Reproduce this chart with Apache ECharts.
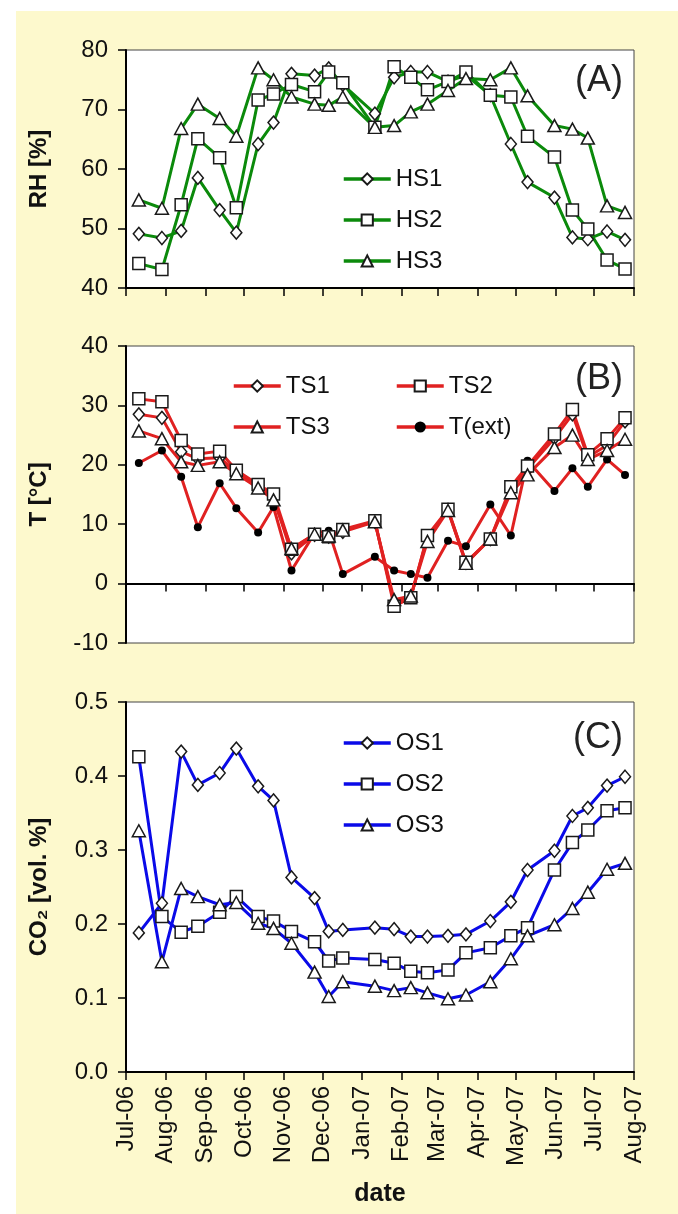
<!DOCTYPE html>
<html>
<head>
<meta charset="utf-8">
<script src="https://cdn.jsdelivr.net/npm/echarts@6/dist/echarts.min.js"></script>
<style>
  html, body { margin: 0; padding: 0; background: #fff; }
  #chart { width: 678px; height: 1214px; }
</style>
</head>
<body>
<div id="chart"></div>
<script>
// sampling dates (shared by all three panels)
const dates = ['2006-07-11', '2006-07-29', '2006-08-13', '2006-08-26', '2006-09-12', '2006-09-25',
  '2006-10-12', '2006-10-24', '2006-11-07', '2006-11-25', '2006-12-06', '2006-12-17',
  '2007-01-11', '2007-01-26', '2007-02-08', '2007-02-21', '2007-03-09', '2007-03-23',
  '2007-04-11', '2007-04-27', '2007-05-10', '2007-05-31', '2007-06-14', '2007-06-26',
  '2007-07-11', '2007-07-25']

// (A) relative humidity [%]
const hs1 = [49.1, 48.4, 49.6, 58.5, 53.1, 49.3, 64.2, 67.8, 76.0, 75.7, 76.9, 74.2, 69.3,
  75.4, 76.3, 76.3, 74.7, 75.8, 72.4, 64.2, 57.8, 55.2, 48.5, 48.2, 49.5, 48.1]
const hs2 = [44.1, 43.1, 54.0, 65.1, 61.9, 53.5, 71.6, 72.6, 74.2, 73.0, 76.3, 74.5, 67.0,
  77.2, 75.4, 73.3, 74.7, 76.3, 72.4, 72.1, 65.5, 62.0, 53.1, 49.9, 44.7, 43.2]
const hs3 = [54.8, 53.4, 66.8, 70.9, 68.5, 65.5, 77.0, 75.0, 72.1, 70.9, 70.7, 72.1, 67.0,
  67.3, 69.6, 70.9, 73.2, 75.2, 75.0, 77.0, 72.3, 67.3, 66.7, 65.2, 53.8, 52.7]

// (B) temperature [°C]
const ts1 = [28.5, 27.9, 22.2, 21.0, 21.2, 18.8, 16.5, 14.6, 5.1, 8.2, 7.9, 8.7, 10.4,
  -3.2, -2.2, 7.8, 12.4, 3.5, 7.5, 15.8, 19.3, 24.5, 28.5, 21.3, 23.3, 27.3]
const ts2 = [31.1, 30.6, 24.1, 21.8, 22.3, 19.1, 16.7, 15.1, 5.8, 8.3, 7.9, 9.1, 10.6,
  -3.8, -2.4, 8.1, 12.5, 3.6, 7.5, 16.3, 19.8, 25.2, 29.3, 21.7, 24.4, 27.9]
const ts3 = [25.7, 24.4, 20.5, 19.9, 20.5, 18.5, 16.1, 14.1, 5.9, 8.3, 8.0, 9.0, 10.4,
  -2.7, -2.1, 7.1, 12.3, 3.4, 7.5, 15.3, 18.3, 22.9, 25.0, 20.9, 22.4, 24.3]
const tExt = [20.3, 22.4, 18.0, 9.5, 16.9, 12.7, 8.6, 12.9, 2.2, 8.5, 8.9, 1.6, 4.5,
  2.2, 1.6, 1.0, 7.2, 6.3, 13.3, 8.1, 20.7, 15.6, 19.4, 16.3, 20.9, 18.3]

// (C) CO2 [vol. %]
const os1 = [0.188, 0.228, 0.433, 0.388, 0.404, 0.437, 0.386, 0.367, 0.263, 0.235, 0.190, 0.192, 0.195,
  0.193, 0.183, 0.183, 0.184, 0.186, 0.204, 0.230, 0.273, 0.299, 0.346, 0.357, 0.387, 0.399]
const os2 = [0.426, 0.210, 0.189, 0.197, 0.216, 0.237, 0.210, 0.204, 0.190, 0.176, 0.150, 0.154, 0.152,
  0.147, 0.136, 0.134, 0.138, 0.161, 0.168, 0.184, 0.195, 0.273, 0.310, 0.327, 0.353, 0.357]
const os3 = [0.326, 0.149, 0.248, 0.237, 0.226, 0.229, 0.201, 0.194, 0.174, 0.135, 0.102, 0.122, 0.116,
  0.110, 0.114, 0.107, 0.099, 0.104, 0.122, 0.153, 0.184, 0.199, 0.221, 0.243, 0.274, 0.282]

const monthNames = ['Jan', 'Feb', 'Mar', 'Apr', 'May', 'Jun', 'Jul', 'Aug', 'Sep', 'Oct', 'Nov', 'Dec']

const FONT = 'Liberation Sans, Arial, sans-serif'
const GREEN = '#0b8a0b'
const RED = '#e02121'
const BLUE = '#0a0ae8'

const grids = [
  { left: 126, right: 44, top: 50, height: 238 },
  { left: 126, right: 44, top: 346, height: 297 },
  { left: 126, right: 44, top: 702, height: 370 }
]

function xAxis (idx, withLabels) {
  return {
    type: 'time',
    gridIndex: idx,
    min: '2006-07-01',
    max: '2007-08-01',
    splitNumber: 13,
    minInterval: 28 * 86400000,
    maxInterval: 31 * 86400000,
    axisLine: { lineStyle: { color: '#000', width: 2 } },
    axisTick: { show: true, length: 8, lineStyle: { color: '#000', width: 1.5 } },
    minorTick: { show: false },
    splitLine: { show: false },
    axisLabel: {
      show: withLabels,
      rotate: 90,
      margin: 14,
      fontSize: 24,
      fontFamily: FONT,
      color: '#111',
      showMinLabel: true,
      showMaxLabel: true,
      formatter: function (v) {
        const d = new Date(v)
        return monthNames[d.getMonth()] + '-' + String(d.getFullYear()).slice(2)
      }
    },
    name: withLabels ? 'date' : '',
    nameLocation: 'middle',
    nameGap: 110,
    nameTextStyle: { fontSize: 25, fontWeight: 'bold', fontFamily: FONT, color: '#111' }
  }
}

function yAxis (idx, name, min, max, step, digits) {
  return {
    type: 'value',
    gridIndex: idx,
    min: min,
    max: max,
    interval: step,
    name: name,
    nameLocation: 'middle',
    nameGap: 75,
    nameTextStyle: { fontSize: 24, fontWeight: 'bold', fontFamily: FONT, color: '#111' },
    axisLine: { show: true, lineStyle: { color: '#000', width: 2 } },
    axisTick: { show: true, length: 8, lineStyle: { color: '#000', width: 1.5 } },
    splitLine: { show: false },
    axisLabel: {
      margin: 18,
      fontSize: 24,
      fontFamily: FONT,
      color: '#111',
      formatter: function (v) { return v.toFixed(digits) }
    }
  }
}

function pairs (values) {
  return dates.map(function (d, i) { return [d, values[i]] })
}

function lineSeries (name, values, idx, color, symbol, size) {
  return {
    name: name,
    type: 'line',
    xAxisIndex: idx,
    yAxisIndex: idx,
    data: pairs(values),
    symbol: symbol,
    symbolSize: size,
    showAllSymbol: true,
    lineStyle: { color: color, width: 3 },
    itemStyle: { color: '#fff', borderColor: '#1a1a1a', borderWidth: 1.5 },
    emphasis: { disabled: true }
  }
}

function legend (names, left, top) {
  return {
    data: names,
    orient: 'vertical',
    left: left,
    top: top,
    itemWidth: 47,
    itemHeight: 14,
    itemGap: 17,
    lineStyle: { width: 3.5 },
    textStyle: { fontSize: 24, fontFamily: FONT, color: '#111' }
  }
}

function panelLabel (text, y) {
  return {
    type: 'text',
    right: 55,
    top: y,
    style: { text: text, fontSize: 36, fontFamily: FONT, fill: '#222' }
  }
}

const ts1Series = lineSeries('TS1', ts1, 1, RED, 'diamond', [11, 13])
ts1Series.markLine = {
  silent: true,
  symbol: 'none',
  label: { show: false },
  lineStyle: { color: '#000', type: [3, 6], width: 1.5 },
  data: [{ yAxis: 0 }]
}

const extSeries = lineSeries('T(ext)', tExt, 1, RED, 'circle', 8)
extSeries.itemStyle = { color: '#000', borderWidth: 0 }

const option = {
  animation: false,
  backgroundColor: '#fff',
  graphic: [
    { type: 'rect', left: 16, top: 11, z: -10, shape: { width: 662, height: 1203 }, style: { fill: '#fdf9cd' } },
    panelLabel('(A)', 63),
    panelLabel('(B)', 361),
    panelLabel('(C)', 720)
  ],
  grid: grids.map(function (g) {
    return Object.assign({ show: true, backgroundColor: '#fff', borderColor: '#444', borderWidth: 1 }, g)
  }),
  xAxis: [xAxis(0, false), xAxis(1, false), xAxis(2, true)],
  yAxis: [
    yAxis(0, 'RH [%]', 40, 80, 10, 0),
    yAxis(1, 'T [°C]', -10, 40, 10, 0),
    yAxis(2, 'CO₂ [vol. %]', 0, 0.5, 0.1, 1)
  ],
  legend: [
    legend(['HS1', 'HS2', 'HS3'], 337, 162),
    legend(['TS1', 'TS3'], 227, 369),
    legend(['TS2', 'T(ext)'], 390, 369),
    legend(['OS1', 'OS2', 'OS3'], 337, 726)
  ],
  series: [
    lineSeries('HS1', hs1, 0, GREEN, 'diamond', [11, 13]),
    lineSeries('HS2', hs2, 0, GREEN, 'rect', 12),
    lineSeries('HS3', hs3, 0, GREEN, 'triangle', [13, 12]),
    extSeries,
    ts1Series,
    lineSeries('TS2', ts2, 1, RED, 'rect', 12),
    lineSeries('TS3', ts3, 1, RED, 'triangle', [13, 12]),
    lineSeries('OS1', os1, 2, BLUE, 'diamond', [11, 13]),
    lineSeries('OS2', os2, 2, BLUE, 'rect', 12),
    lineSeries('OS3', os3, 2, BLUE, 'triangle', [13, 12])
  ]
}

const chart = echarts.init(document.getElementById('chart'))
chart.setOption(option)
</script>
</body>
</html>
